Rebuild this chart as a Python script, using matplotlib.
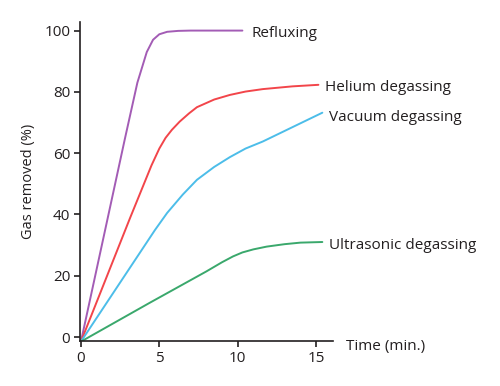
import matplotlib
matplotlib.use("Agg")
import matplotlib.pyplot as plt

plt.rcParams['font.family'] = ['Open Sans', 'DejaVu Sans']

reflux_x = [0, 2.8, 3.6, 4.2, 4.6, 5.0, 5.5, 6.2, 7.0, 8.5, 10.3]
reflux_y = [-1.5, 64.6, 83, 93, 97, 98.8, 99.6, 99.9, 100, 100, 100]

helium_x = [0, 3.13, 4.5, 5.0, 5.4, 5.8, 6.3, 6.9, 7.4, 8.5, 9.5, 10.5, 11.6, 13.5, 15.15]
helium_y = [-1.5, 38.8, 56, 61.5, 65.0, 67.6, 70.3, 73.0, 75.0, 77.5, 79, 80.1, 80.9, 81.8, 82.3]

vacuum_x = [0, 4.72, 5.5, 6.5, 7.4, 8.5, 9.5, 10.5, 11.6, 13.5, 15.4]
vacuum_y = [-1.5, 34.9, 40.5, 46.5, 51.3, 55.5, 58.7, 61.5, 63.8, 68.5, 73.2]

ultra_x = [0, 4.4, 8.0, 9.0, 9.7, 10.3, 11.0, 11.85, 13.0, 14.0, 15.4]
ultra_y = [-1.5, 11.2, 21.4, 24.4, 26.3, 27.6, 28.6, 29.5, 30.3, 30.8, 31.0]

labels = ["Refluxing", "Helium degassing", "Vacuum degassing", "Ultrasonic degassing"]
colors = ["#a35cb5", "#f2454a", "#4cbde9", "#3aa86c"]

fig = plt.figure(figsize=(5.0, 3.86), dpi=100)
ax = fig.add_axes([0.16, 0.1166, 0.506, 0.8264])

series = [(reflux_x, reflux_y), (helium_x, helium_y), (vacuum_x, vacuum_y), (ultra_x, ultra_y)]
for (xs, ys), c in zip(series, colors):
    ax.plot(xs, ys, color=c, lw=1.4, solid_capstyle='round', solid_joinstyle='round')

label_pos = [(10.9, 99.0), (15.6, 81.5), (15.8, 71.5), (15.8, 30.0)]
for (lx, ly), t in zip(label_pos, labels):
    ax.text(lx, ly, t, fontsize=11, color="#231f20", va='center', ha='left', clip_on=False)

ax.set_xlim(-0.06, 16.08)
ax.set_ylim(-1.3, 102.8)
ax.set_xticks([0, 5, 10, 15])
ax.set_yticks([0, 20, 40, 60, 80, 100])
for s in ['top', 'right']:
    ax.spines[s].set_visible(False)
for s in ['left', 'bottom']:
    ax.spines[s].set_linewidth(1.2)
    ax.spines[s].set_color("#231f20")
ax.tick_params(direction='out', length=4, width=1.2, colors="#231f20", labelsize=11, pad=3)
ax.set_ylabel("Gas removed (%)", fontsize=10.5, color="#231f20", labelpad=6)
ax.text(16.9, -0.8, "Time (min.)", fontsize=11, color="#231f20", va='top', ha='left', clip_on=False)

fig.savefig("out.png", dpi=100)
